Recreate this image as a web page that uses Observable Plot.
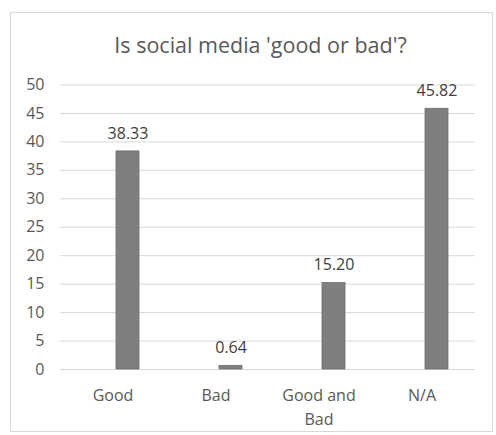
<!DOCTYPE html>
<html>
<head>
<meta charset="utf-8">
<script src="https://cdn.jsdelivr.net/npm/d3@7"></script>
<script src="https://cdn.jsdelivr.net/npm/@observablehq/plot@0.6"></script>
<style>
  html, body { margin: 0; padding: 0; background: #fff; }
  body { width: 496px; height: 435px; position: relative; overflow: hidden; font-family: "Open Sans", sans-serif; }
  #frame { position: absolute; left: 10px; top: 12px; width: 483px; height: 420px; border: 1px solid #d9d9d9; box-sizing: border-box; }
  #title { position: absolute; left: 0; width: 521px; top: 30px; text-align: center; font-size: 21.5px; line-height: 30px; color: #595959; }
  #chart { position: absolute; left: 0; top: 60px; }
</style>
</head>
<body>
<div id="frame"></div>
<div id="title">Is social media 'good or bad'?</div>
<div id="chart"></div>
<script>
const categories = ["Good", "Bad", "Good and Bad", "N/A"];
const tickLabels = ["Good", "Bad", "Good and\nBad", "N/A"];
const values = [38.33, 0.64, 15.20, 45.82];
const yTicks = [0, 5, 10, 15, 20, 25, 30, 35, 40, 45, 50];

const data = categories.map((c, i) => ({category: c, value: values[i]}));
const labelOf = new Map(categories.map((c, i) => [c, tickLabels[i]]));

const chart = Plot.plot({
  width: 496,
  height: 375,
  marginTop: 24.5,
  marginBottom: 66,
  marginLeft: 60,
  marginRight: 21,
  style: {fontFamily: "'Open Sans', sans-serif", fontSize: "16px", color: "#595959", background: "transparent"},
  x: {domain: categories, paddingInner: 0.775, paddingOuter: 0.3875, align: 0.5},
  y: {domain: [0, 50]},
  marks: [
    Plot.gridY(yTicks, {stroke: "#d9d9d9", strokeOpacity: 1}),
    Plot.axisY(yTicks, {tickSize: 0, tickPadding: 16, fontSize: 16, fill: "#595959", label: null}),
    Plot.axisX({tickSize: 0, tickPadding: 14, fontSize: 16, fill: "#595959", label: null, lineHeight: 1.5, tickFormat: d => labelOf.get(d)}),
    Plot.barY(data, {x: "category", y: "value", fill: "#7f7f7f", stroke: "#6f6f6f", strokeWidth: 0.8, dx: 15}),
    Plot.text(data, {x: "category", y: "value", text: d => d.value.toFixed(2), dx: 15, dy: -18, fontSize: 16, fill: "#404040", lineAnchor: "middle"})
  ]
});
document.getElementById("chart").appendChild(chart);
</script>
</body>
</html>
